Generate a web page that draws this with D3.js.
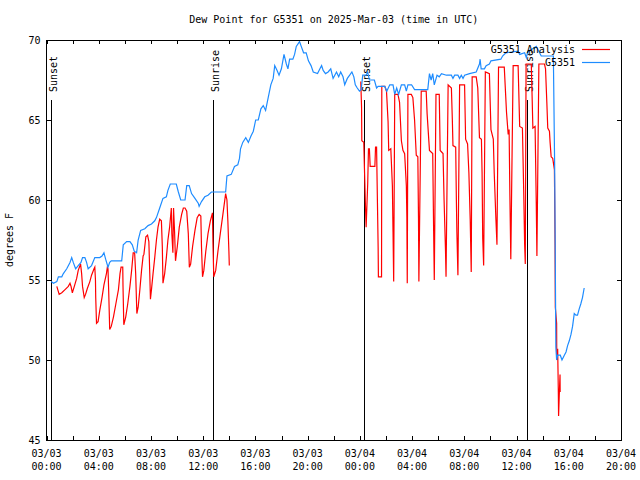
<!DOCTYPE html>
<html><head><meta charset="utf-8">
<script src="https://cdn.jsdelivr.net/npm/d3@7"></script>
<style>
html,body{margin:0;padding:0;background:#fff;}
svg{display:block;}
text{font-family:"DejaVu Sans Mono","Liberation Mono",monospace;font-size:10px;fill:#000;}
</style></head>
<body>
<svg id="chart" width="640" height="480"></svg>
<script>
// ---- data ----
const titleText = "Dew Point for G5351 on 2025-Mar-03 (time in UTC)";
const yLabelText = "degrees F";
const seriesNames = ["G5351 Analysis", "G5351"];
const seriesColors = ["#ff0000", "#1e8cff"];

const xTickHours = [0,4,8,12,16,20,24,28,32,36,40,44];
const xTickDates = ["03/03","03/03","03/03","03/03","03/03","03/03","03/04","03/04","03/04","03/04","03/04","03/04"];
const xTickTimes = ["00:00","04:00","08:00","12:00","16:00","20:00","00:00","04:00","08:00","12:00","16:00","20:00"];
const xMinorHours = [2,6,10,14,18,22,26,30,34,38,42];
const yTicks = [45,50,55,60,65,70];

const eventHours = [0.31, 12.76, 24.32, 36.79];
const eventLabels = ["Sunset","Sunrise","Sunset","Sunrise"];

// observations (hours since 2025-03-03 00:00 UTC, dew point °F)
const obsHours = [0.36,0.53,0.79,0.91,1.17,1.29,1.55,1.80,1.93,2.05,2.23,2.43,2.64,2.76,2.94,3.07,3.19,3.45,3.70,4.08,4.25,4.40,4.53,4.71,4.84,4.96,5.76,5.88,6.14,6.39,6.57,6.72,6.90,7.02,7.21,7.53,7.78,8.04,8.29,8.42,8.67,8.92,9.18,9.30,9.48,9.94,10.10,10.28,10.61,10.74,10.93,11.11,11.37,11.62,11.69,11.87,12.12,12.37,12.63,13.72,13.82,14.15,14.40,14.65,14.78,14.86,15.03,15.26,15.46,15.66,15.84,16.02,16.22,16.42,16.60,16.78,16.98,17.18,17.36,17.48,17.66,17.81,17.99,18.19,18.37,18.49,18.62,18.87,19.00,19.13,19.38,19.51,19.69,19.89,20.06,20.26,20.43,20.76,20.94,21.07,21.19,21.37,21.57,21.77,21.95,22.08,22.21,22.38,22.53,22.71,22.84,23.04,23.22,23.39,23.54,23.65,23.80,23.97,24.10,24.22,24.48,24.60,24.73,25.11,25.28,25.40,25.91,26.06,26.29,26.54,26.67,26.82,26.97,27.18,27.43,27.56,27.68,27.96,28.19,29.20,29.33,29.46,29.58,29.70,29.91,30.08,30.25,30.63,31.01,31.13,31.26,31.51,31.64,31.77,31.90,32.02,32.40,32.91,33.16,33.21,33.29,33.54,33.67,33.92,34.04,34.80,34.93,35.18,36.11,36.24,36.62,36.75,36.87,37.13,37.51,37.89,38.82,38.92,39.01,39.07,39.15,39.35,39.48,39.66,39.79,39.91,40.04,40.17,40.29,40.42,40.55,40.67,40.80,40.92,41.05,41.18];
const obsDew = [54.9,54.8,54.9,55.2,55.2,55.4,55.7,56.1,56.4,56.1,55.7,55.9,56.1,56.4,56.4,56.1,55.7,55.9,56.4,56.4,56.5,56.7,56.3,55.8,56.1,56.2,56.2,57.2,57.4,57.4,57.2,56.8,56.7,57.5,58.1,58.2,58.4,58.5,58.7,58.9,59.5,60.1,60.2,60.6,61.0,61.0,60.5,60.0,60.0,60.9,60.9,60.4,60.1,59.8,59.6,59.9,60.2,60.3,60.5,60.5,61.5,61.6,62.1,62.2,62.6,63.2,63.6,63.9,63.6,64.0,64.3,65.0,65.0,65.7,65.9,65.6,66.4,67.2,67.6,68.4,68.1,67.8,68.2,69.1,68.5,68.2,68.8,68.8,69.1,69.6,69.9,69.6,69.2,69.2,68.7,68.4,68.0,67.9,68.2,68.4,68.1,67.9,68.0,68.2,67.6,67.8,68.0,67.7,68.0,67.7,67.2,67.6,67.8,68.0,67.7,67.2,67.0,66.8,66.9,67.8,67.8,68.0,67.5,67.5,67.0,67.1,67.1,66.8,67.2,67.2,66.6,67.0,66.6,67.2,67.2,66.8,67.2,67.2,66.9,66.9,67.9,67.5,67.9,67.2,67.8,67.7,67.9,67.8,67.8,67.6,67.8,67.8,67.6,67.8,67.6,67.8,67.9,68.0,68.5,68.8,68.2,68.2,68.4,68.5,68.7,68.8,69.0,69.2,69.3,69.1,69.2,68.9,69.3,69.4,69.6,69.0,69.0,62.0,50.8,50.0,50.3,50.3,50.0,50.3,50.5,50.9,51.2,51.6,52.1,52.9,52.8,52.8,53.2,53.5,53.9,54.5];

// analysis (null = gap)
const anaHours = [0.79,0.97,1.17,1.42,1.67,1.80,1.88,1.98,2.13,2.31,2.43,2.61,2.69,2.76,2.89,2.99,3.14,3.32,3.45,3.64,3.70,3.75,3.77,3.83,3.95,4.08,4.25,4.40,4.59,4.66,4.71,4.76,4.84,4.96,5.13,5.31,5.51,5.63,5.71,5.84,5.86,5.92,6.07,6.22,6.39,6.52,6.64,6.75,6.83,6.92,7.02,7.15,7.28,7.40,7.46,7.61,7.74,7.84,7.91,7.96,8.04,8.16,8.29,8.42,8.54,8.67,8.80,8.87,8.92,9.05,9.18,9.30,9.43,9.56,9.60,9.68,9.73,9.81,9.88,10.02,10.17,10.35,10.48,10.61,10.74,10.86,10.94,11.04,11.19,11.37,11.54,11.69,11.82,11.87,11.95,12.05,12.20,12.37,12.55,12.71,12.75,12.81,12.96,13.13,13.31,13.51,13.72,13.82,13.89,13.97,14.00,
  19.0,
  24.07,24.13,24.15,24.30,24.35,24.43,24.48,24.60,24.66,24.73,24.79,25.15,25.20,25.28,25.32,25.40,25.42,25.66,25.68,25.91,26.04,26.16,26.21,26.37,26.49,26.54,26.59,26.67,26.92,27.04,27.18,27.30,27.43,27.56,27.60,27.63,27.68,27.94,28.06,28.19,28.32,28.44,28.49,28.52,28.70,29.08,29.15,29.33,29.58,29.65,29.70,29.83,30.08,30.15,30.37,30.45,30.56,30.60,30.76,31.01,31.08,31.13,31.34,31.39,31.43,31.51,31.64,32.02,32.10,32.25,32.35,32.45,32.53,32.60,32.91,33.03,33.16,33.31,33.36,33.41,33.48,33.61,33.92,34.04,34.22,34.29,34.42,34.50,34.62,35.06,35.23,35.36,35.43,35.49,35.56,35.74,36.12,36.24,36.45,36.55,36.62,36.67,36.73,37.13,37.20,37.25,37.42,37.51,37.56,37.71,38.14,38.22,38.32,38.39,38.52,38.57,38.65,38.77,38.90,38.95,38.97,39.07,39.08,39.15,39.20,39.22,39.28,39.33,39.34];
const anaDew = [54.6,54.1,54.2,54.4,54.6,54.8,54.6,54.2,54.6,55.1,55.6,56.0,55.4,54.6,53.9,54.1,54.5,54.9,55.3,55.7,55.8,55.0,53.9,52.3,52.4,53.1,53.9,54.7,55.4,55.8,55.7,54.4,51.9,52.1,52.7,53.5,54.4,55.4,55.8,55.8,54.6,52.2,52.7,53.5,54.6,55.6,56.7,56.7,55.4,52.9,53.3,54.4,55.6,56.5,56.6,57.7,57.8,57.4,55.4,53.8,54.4,55.4,56.4,57.5,58.3,58.8,58.7,57.1,54.8,55.4,56.4,57.5,58.3,59.5,57.9,56.7,59.5,58.0,56.2,57.1,58.3,59.1,59.5,59.5,59.3,57.9,55.8,56.0,57.1,58.1,58.9,59.1,59.0,57.1,55.2,55.6,56.8,57.9,58.7,59.2,57.3,55.2,55.6,56.8,57.9,59.1,60.4,60.0,58.7,56.8,55.9,
  null,
  67.4,65.8,63.7,63.6,62.0,59.6,58.3,61.0,63.2,63.2,62.1,62.1,63.3,63.3,61.2,57.0,55.2,55.2,67.1,67.1,66.8,64.9,63.1,63.2,60.9,58.0,54.9,66.6,66.6,66.1,63.7,63.1,62.9,60.9,58.9,54.8,66.6,66.6,66.4,65.0,62.8,62.7,58.9,54.9,66.8,66.8,65.4,63.1,62.9,58.1,55.0,66.6,66.6,63.1,62.9,60.0,56.8,55.2,67.2,67.0,65.1,63.4,63.3,60.1,58.0,55.3,67.2,67.2,63.8,63.5,61.7,58.8,55.5,67.7,67.7,67.0,63.9,63.8,61.7,57.6,55.9,68.0,67.9,64.4,63.8,61.7,58.8,57.2,68.3,68.3,65.5,64.1,64.4,60.3,56.3,68.4,68.4,64.6,64.5,60.5,57.2,56.0,68.5,68.5,66.2,64.5,64.6,59.8,56.5,68.5,68.5,68.2,66.1,64.5,64.3,63.6,62.7,62.6,61.9,57.3,53.3,52.3,50.0,50.7,48.0,46.5,48.0,49.1,48.0];

// ---- layout ----
const svg = d3.select("#chart");
const L = 46.5, R = 621, T = 40, B = 440;
const x = d3.scaleLinear().domain([0, 44]).range([L, R]);
const y = d3.scaleLinear().domain([45, 70]).range([B, T]);

// title
svg.append("text").attr("x", (L + R) / 2).attr("y", 23).attr("text-anchor", "middle").text(titleText);
// y label
svg.append("text").attr("transform", `translate(13,${(T + B) / 2}) rotate(-90)`).attr("text-anchor", "middle").text(yLabelText);

// axes (ticks inward, mirrored)
const gAx = svg.append("g");
const allXTicks = xTickHours.concat(xMinorHours);
const axB = d3.axisBottom(x).tickValues(allXTicks).tickSize(-4).tickFormat("");
const axT = d3.axisTop(x).tickValues(allXTicks).tickSize(-4).tickFormat("");
const axL = d3.axisLeft(y).tickValues(yTicks).tickSize(-4).tickFormat("");
const axR = d3.axisRight(y).tickValues(yTicks).tickSize(-4).tickFormat("");
[[axB, `translate(0,${B})`], [axT, `translate(0,${T})`], [axL, `translate(${L},0)`], [axR, `translate(${R},0)`]].forEach(([ax, tr]) => {
  const g = gAx.append("g").attr("transform", tr).call(ax);
  g.select(".domain").remove();
  g.selectAll("line").attr("stroke", "#000").attr("shape-rendering", "crispEdges");
});

// y tick labels
svg.append("g").selectAll("text").data(yTicks).join("text")
  .attr("x", L - 6).attr("y", d => y(d) + 3.5).attr("text-anchor", "end").text(d => d);

// x tick labels (two lines)
const xl = svg.append("g").selectAll("text").data(xTickHours).join("text")
  .attr("text-anchor", "middle");
xl.append("tspan").attr("x", d => x(d)).attr("y", 457).text((d, i) => xTickDates[i]);
xl.append("tspan").attr("x", d => x(d)).attr("y", 470).text((d, i) => xTickTimes[i]);

// clip
svg.append("clipPath").attr("id", "clip").append("rect").attr("x", L).attr("y", T).attr("width", R - L).attr("height", B - T);

// sunrise / sunset markers
const ev = svg.append("g");
ev.selectAll("line").data(eventHours).join("line")
  .attr("x1", d => Math.round(x(d)) + 0.5).attr("x2", d => Math.round(x(d)) + 0.5)
  .attr("y1", 100).attr("y2", B).attr("stroke", "#000").attr("stroke-width", 1);
ev.selectAll("text").data(eventHours).join("text")
  .attr("transform", d => `translate(${Math.round(x(d)) + 6},92) rotate(-90)`)
  .attr("text-anchor", "start").text((d, i) => eventLabels[i]);

// series
const plot = svg.append("g").attr("clip-path", "url(#clip)");
const anaPts = anaHours.map((h, i) => [h, anaDew[i]]);
const obsPts = obsHours.map((h, i) => [h, obsDew[i]]);
const line = d3.line().defined(d => d[1] != null).x(d => x(d[0])).y(d => y(d[1]));
plot.append("path").datum(anaPts).attr("d", line).attr("fill", "none")
  .attr("stroke", seriesColors[0]).attr("stroke-width", 1.2);
plot.append("path").datum(obsPts).attr("d", line).attr("fill", "none")
  .attr("stroke", seriesColors[1]).attr("stroke-width", 1.2);

// legend
const lg = svg.append("g");
seriesNames.forEach((name, i) => {
  const yy = 49 + i * 13;
  lg.append("text").attr("x", 575).attr("y", yy + 3.5).attr("text-anchor", "end").text(name);
  lg.append("line").attr("x1", 582).attr("x2", 610).attr("y1", yy + 0.5).attr("y2", yy + 0.5)
    .attr("stroke", seriesColors[i]).attr("stroke-width", 1.2);
});

// border
svg.append("rect").attr("x", L).attr("y", T + 0.5).attr("width", R - L).attr("height", B - T)
  .attr("fill", "none").attr("stroke", "#000").attr("stroke-width", 1).attr("shape-rendering", "crispEdges");
</script>
</body></html>
